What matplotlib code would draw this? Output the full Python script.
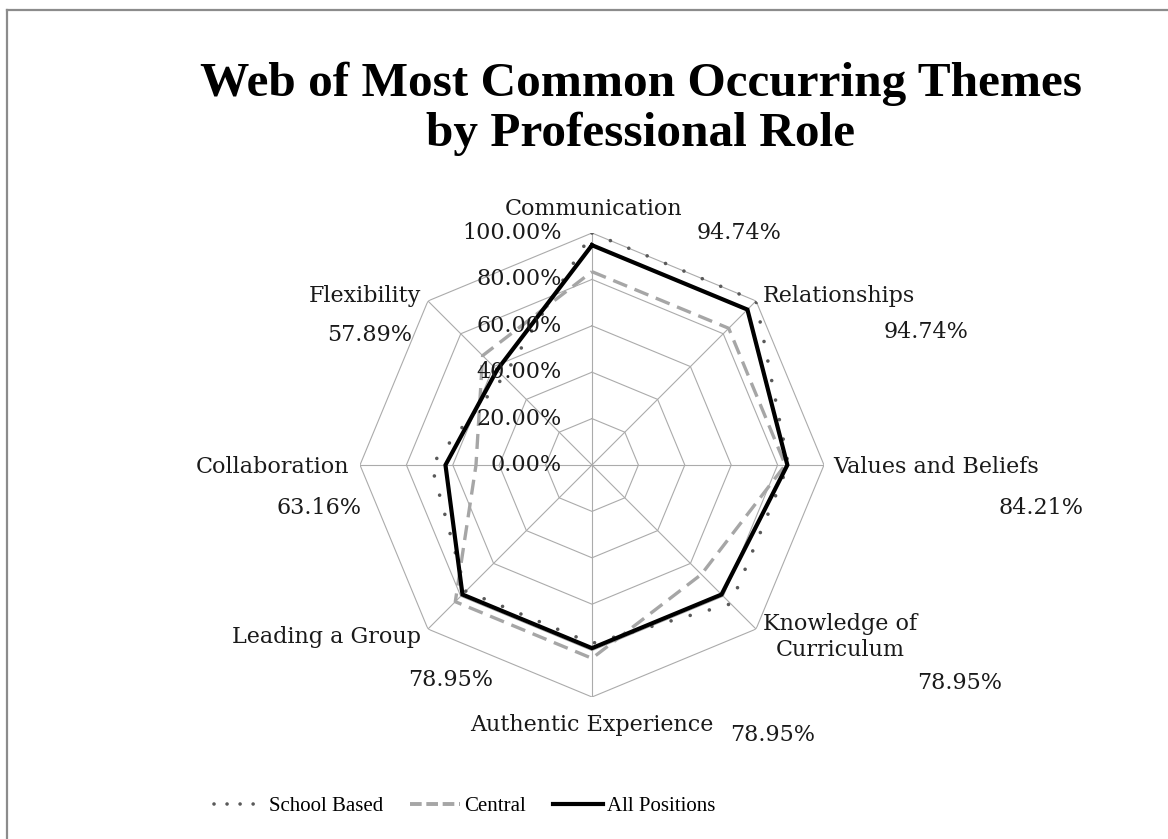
import numpy as np
import matplotlib
matplotlib.use("Agg")
import matplotlib.pyplot as plt
from matplotlib.lines import Line2D
from matplotlib.transforms import ScaledTranslation

categories = ["Communication", "Relationships", "Values and Beliefs",
              "Knowledge of\nCurriculum", "Authentic Experience",
              "Leading a Group", "Collaboration", "Flexibility"]
school_based = [100.00, 100.00, 84.62, 84.62, 76.92, 76.92, 69.23, 53.85]
central = [83.33, 83.33, 83.33, 66.67, 83.33, 83.33, 50.00, 66.67]
all_positions = [94.74, 94.74, 84.21, 78.95, 78.95, 78.95, 63.16, 57.89]
ring_values = [0, 20, 40, 60, 80, 100]
title = "Web of Most Common Occurring Themes\nby Professional Role"

W, H, DPI = 1168, 839, 100
fig = plt.figure(figsize=(W / DPI, H / DPI), dpi=DPI)
fig.patch.set_facecolor("white")

def fp(x, y):
    return x / W, 1 - y / H

# chart-area border (top and left edges only visible)
fig.add_artist(Line2D([7 / W, 1], [1 - 10 / H, 1 - 10 / H], color="#8c8c8c", lw=1.6, transform=fig.transFigure))
fig.add_artist(Line2D([7 / W, 7 / W], [0, 1 - 10 / H], color="#8c8c8c", lw=1.6, transform=fig.transFigure))

cx, cy, R = 592, 465, 232
ax = fig.add_axes([(cx - R) / W, (H - cy - R) / H, 2 * R / W, 2 * R / H], projection="polar")
ax.set_theta_zero_location("N")
ax.set_theta_direction(-1)
ax.set_ylim(0, 100)
ax.set_xticks([])
ax.set_yticks([])
ax.grid(False)
ax.spines["polar"].set_visible(False)
ax.patch.set_visible(False)

n = len(categories)
theta = np.arange(n) * 2 * np.pi / n
theta_c = np.append(theta, theta[0])

grid_col = "#ababab"
for rv in ring_values[1:]:
    ax.plot(theta_c, [rv] * (n + 1), color=grid_col, lw=0.8, zorder=1)
for t in theta:
    ax.plot([t, t], [0, 100], color=grid_col, lw=0.8, zorder=1)

def closed(v):
    return list(v) + [v[0]]

ax.plot(theta_c, closed(school_based), color="#595959", lw=2.6,
        linestyle=(0, (0.01, 5.5)), dash_capstyle="round", zorder=3)
ax.plot(theta_c, closed(central), color="#a6a6a6", lw=2.4,
        linestyle=(0, (4.5, 2.4)), dash_capstyle="butt", zorder=4)
ax.plot(theta_c, closed(all_positions), color="black", lw=3.0,
        solid_joinstyle="miter", zorder=5)

serif = ["DejaVu Serif"]
fs = 16

# radial axis labels
off = ScaledTranslation(-30 / DPI, 0, fig.dpi_scale_trans)
for rv in ring_values:
    ax.text(0, rv, f"{rv:.2f}%", ha="right", va="center", fontsize=fs,
            family=serif, color="#1a1a1a", transform=ax.transData + off, zorder=6)

# category labels (position, alignment)
cat_pos = [((594, 209), "center"), ((763, 296), "left"), ((833, 467), "left"),
           ((840, 637), "center"), ((592, 725), "center"), ((421, 637), "right"),
           ((349, 467), "right"), ((421, 296), "right")]
for lab, ((x, y), ha) in zip(categories, cat_pos):
    fig.text(*fp(x, y), lab, ha=ha, va="center", fontsize=fs, family=serif,
             color="#1a1a1a", linespacing=1.25)

# data labels (All Positions)
val_pos = [(739, 233), (926, 332), (1041, 508), (960, 683),
           (773, 735), (451, 680), (319, 508), (370, 335)]
for v, (x, y) in zip(all_positions, val_pos):
    fig.text(*fp(x, y), f"{v:.2f}%", ha="center", va="center", fontsize=fs,
             family=serif, color="#1a1a1a")

fig.text(*fp(641, 109), title, ha="center", va="center", fontsize=35.5,
         fontweight="bold", family=["Liberation Serif", "DejaVu Serif"],
         linespacing=1.18, color="black")

handles = [
    Line2D([], [], color="#595959", lw=2.6, linestyle=(0, (0.01, 3.6)), dash_capstyle="round"),
    Line2D([], [], color="#a6a6a6", lw=2.8, linestyle=(0, (3.0, 1.2)), dash_capstyle="butt"),
    Line2D([], [], color="black", lw=3.0),
]
leg = fig.legend(handles, ["School Based", "Central", "All Positions"],
                 loc="center", bbox_to_anchor=fp(465, 806), ncol=3, frameon=False,
                 handlelength=2.4, handletextpad=0.2, columnspacing=1.3,
                 prop={"family": ["Liberation Serif", "DejaVu Serif"], "size": 15})

fig.savefig("out.png", dpi=DPI, facecolor="white")
